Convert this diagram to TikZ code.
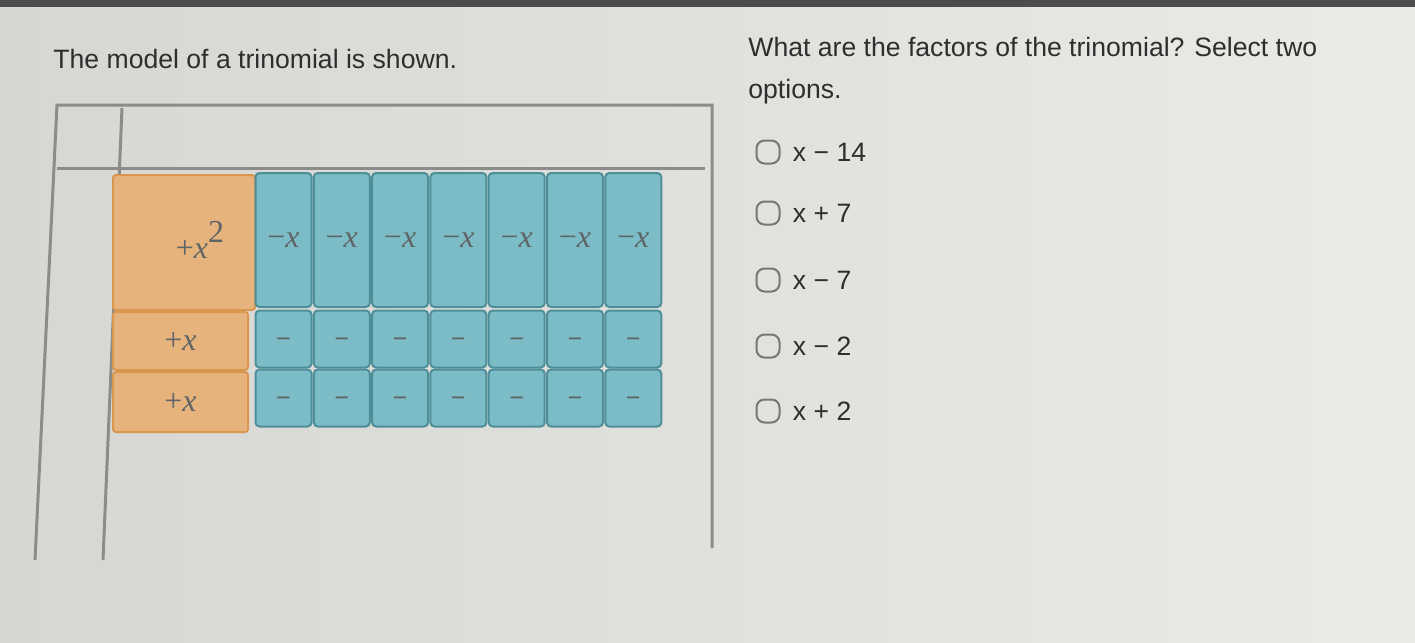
\documentclass[tikz,border=0pt]{standalone}
\usepackage{fontspec}
\setmainfont{Liberation Sans}
\newfontfamily\tilefont{Liberation Serif}
\usepackage{tikz}
\usetikzlibrary{positioning}

\definecolor{panelL}{HTML}{D6D6D2}
\definecolor{panelR}{HTML}{EAEAE7}
\definecolor{frameline}{HTML}{8C8C8A}
\definecolor{orangefill}{HTML}{E7B37D}
\definecolor{orangeedge}{HTML}{D9964F}
\definecolor{tealfill}{HTML}{7CBCC6}
\definecolor{tealedge}{HTML}{4D8E98}
\definecolor{tiletext}{HTML}{5F6466}
\definecolor{qtext}{HTML}{2E2E2E}

\tikzset{
  qlabel/.style={font=\fontsize{13.3}{16}\selectfont, text=qtext, inner sep=0pt},
  sqtile/.style={draw=orangeedge, fill=orangefill, line width=1pt, rounded corners=1.5pt,
    inner sep=0pt, text=tiletext, font=\tilefont\fontsize{16}{18}\selectfont},
  xtile/.style={draw=tealedge, fill=tealfill, line width=1pt, rounded corners=2pt,
    minimum width=28pt, inner sep=0pt, text=tiletext, font=\tilefont\fontsize{16}{18}\selectfont},
  onetile/.style={xtile, minimum height=28.5pt, text height=0pt, text depth=0pt,
    font=\tilefont\bfseries\fontsize{13}{15}\selectfont},
  optbox/.style={draw=frameline!85!black, line width=1pt, rounded corners=4pt,
    minimum width=11.5pt, minimum height=11.5pt, inner sep=0pt},
}

\begin{document}
\begin{tikzpicture}[x=0.5pt, y=-0.5pt]
  \useasboundingbox (0,0) rectangle (1415,643);
  \shade[left color=panelL, right color=panelR] (0,0) rectangle (1415,643);
  \fill[black!70] (0,0) rectangle (1415,7);

  % question texts
  \node[qlabel, anchor=base west] (qleft) at (53,68) {The model of a trinomial is shown.};
  \node[qlabel, anchor=base west] (qright) at (748,56) {What are the factors of the trinomial? Select two};
  \node[qlabel, anchor=base west] (qright2) at (748,98) {options.};

  % mat
  \draw[frameline, line width=1.5pt] (35,560) -- (57,105) -- (712,105) -- (712,548);
  \draw[frameline, line width=1.5pt] (57,168) -- (705,168);
  \draw[frameline, line width=1.5pt] (122,108) -- (103,560);

  % x^2 and +x tiles
  \node[sqtile, minimum width=71pt, minimum height=67.5pt] (xsq) at (184,242.5)
    {\hspace*{16pt}\raisebox{3pt}{+\textit{x}\raisebox{1.1ex}{2}}};
  \node[sqtile, minimum width=67.5pt, minimum height=29pt] (px1) at (180.5,341) {+\textit{x}};
  \node[sqtile, minimum width=67.5pt, minimum height=30pt] (px2) at (180.5,402) {+\textit{x}};

  % -x tiles and -1 tiles
  \foreach \i in {0,...,6} {
    \node[xtile, minimum height=67pt] (nx\i) at ({283.5+58.3*\i},240) {−\textit{x}};
    \node[onetile] (na\i) at ({283.5+58.3*\i},339) {\raisebox{-4pt}{−}};
    \node[onetile] (nb\i) at ({283.5+58.3*\i},398) {\raisebox{-4pt}{−}};
  }

  % answer options
  \foreach \t/\y [count=\k] in {x − 14/152, x + 7/213, x − 7/280, x − 2/346, x + 2/411} {
    \node[optbox] (box\k) at (768,\y) {};
    \node[qlabel, right=6pt of box\k] (opt\k) {\t};
  }
\end{tikzpicture}
\end{document}
